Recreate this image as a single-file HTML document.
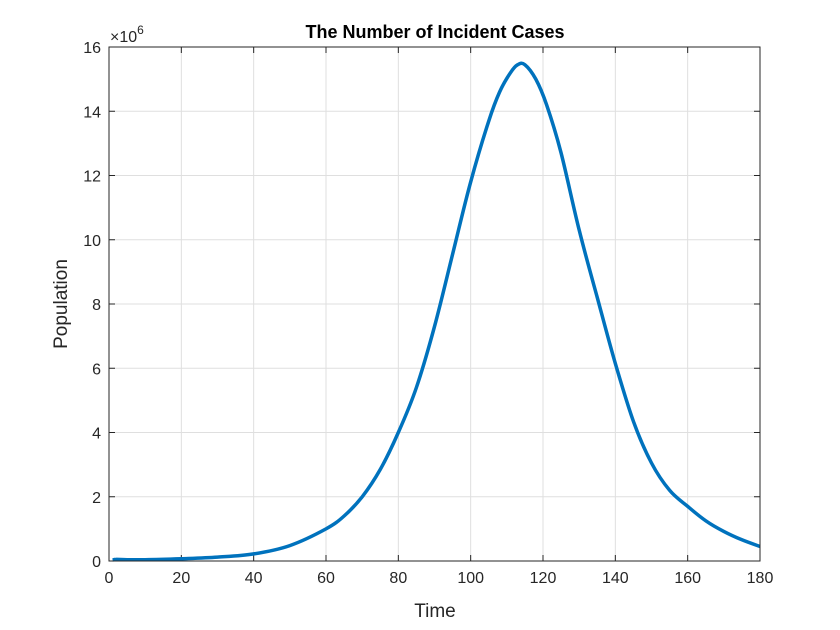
<!DOCTYPE html>
<html><head><meta charset="utf-8"><style>
body{margin:0;background:#fff;}
svg{display:block;font-family:"Liberation Sans",Arial,sans-serif;}
</style></head><body>
<svg id="chart" width="840" height="630">
<rect x="0" y="0" width="840" height="630" fill="#fff"/>
<g id="grid"></g>
<g id="ticks"></g>
<path id="line" fill="none" stroke="#0072BD" stroke-width="3.5" stroke-linejoin="round"/>
<rect x="109" y="47" width="651" height="514" fill="none" stroke="#262626" stroke-width="1"/>
<text x="435" y="38" text-anchor="middle" font-size="18" font-weight="bold" fill="#000">The Number of Incident Cases</text>
<text x="435" y="617" text-anchor="middle" font-size="19" fill="#262626">Time</text>
<text transform="translate(67,304) rotate(-90)" text-anchor="middle" font-size="19" fill="#262626">Population</text>
<text x="110" y="42" font-size="16" fill="#262626">×10<tspan dy="-8" font-size="12">6</tspan></text>
</svg>
<script>
const times=[1,2,5,10,20,30,40,50,60,65,70,75,80,85,90,95,100,105,108,111,113,115,118,121,125,130,135,140,145,150,155,160,165,170,175,180];
const cases=[0.03,0.05,0.04,0.04,0.07,0.12,0.22,0.48,1.0,1.4,2.0,2.85,4.0,5.4,7.3,9.55,11.8,13.7,14.6,15.2,15.45,15.45,15.0,14.2,12.7,10.3,8.2,6.15,4.35,3.05,2.2,1.7,1.25,0.92,0.66,0.45];
const xTicks=[0,20,40,60,80,100,120,140,160,180];
const yTicks=[0,2,4,6,8,10,12,14,16];
const X0=109,X1=760,Y0=561,Y1=47;
const xs=v=>X0+(v-0)/(180-0)*(X1-X0);
const ys=v=>Y0-(v-0)/(16-0)*(Y0-Y1);
const ns="http://www.w3.org/2000/svg";
const grid=document.getElementById('grid'),tk=document.getElementById('ticks');
function mk(tag,attrs,parent){const e=document.createElementNS(ns,tag);for(const k in attrs)e.setAttribute(k,attrs[k]);parent.appendChild(e);return e;}
xTicks.forEach(v=>{
  const x=xs(v);
  const g=mk('line',{x1:x,x2:x,y1:Y1,y2:Y0,stroke:'#dfdfdf','stroke-width':1},grid);
  
  
  mk('line',{x1:x,x2:x,y1:Y0,y2:Y0-6,stroke:'#262626'},tk);
  mk('line',{x1:x,x2:x,y1:Y1,y2:Y1+6,stroke:'#262626'},tk);
  const t=mk('text',{x:x,y:Y0+22,'text-anchor':'middle','font-size':16,fill:'#262626'},tk);
  t.textContent=v;
  
  
});
yTicks.forEach(v=>{
  const y=ys(v);
  const g=mk('line',{x1:X0,x2:X1,y1:y,y2:y,stroke:'#dfdfdf','stroke-width':1},grid);
  
  
  mk('line',{x1:X0,x2:X0+6,y1:y,y2:y,stroke:'#262626'},tk);
  mk('line',{x1:X1,x2:X1-6,y1:y,y2:y,stroke:'#262626'},tk);
  const t=mk('text',{x:X0-8,y:y+6,'text-anchor':'end','font-size':16,fill:'#262626'},tk);
  t.textContent=v;
  
  
});
// smooth Catmull-Rom path through data points
const P=times.map((t,i)=>[xs(t),ys(cases[i])]);
let d='M'+P[0][0].toFixed(1)+','+P[0][1].toFixed(1);
for(let i=0;i<P.length-1;i++){
  const p0=P[Math.max(0,i-1)],p1=P[i],p2=P[i+1],p3=P[Math.min(P.length-1,i+2)];
  const c1=[p1[0]+(p2[0]-p0[0])/6,p1[1]+(p2[1]-p0[1])/6];
  const c2=[p2[0]-(p3[0]-p1[0])/6,p2[1]-(p3[1]-p1[1])/6];
  d+='C'+c1[0].toFixed(1)+','+c1[1].toFixed(1)+' '+c2[0].toFixed(1)+','+c2[1].toFixed(1)+' '+p2[0].toFixed(1)+','+p2[1].toFixed(1);
}
document.getElementById('line').setAttribute('d',d);
</script>
</body></html>
